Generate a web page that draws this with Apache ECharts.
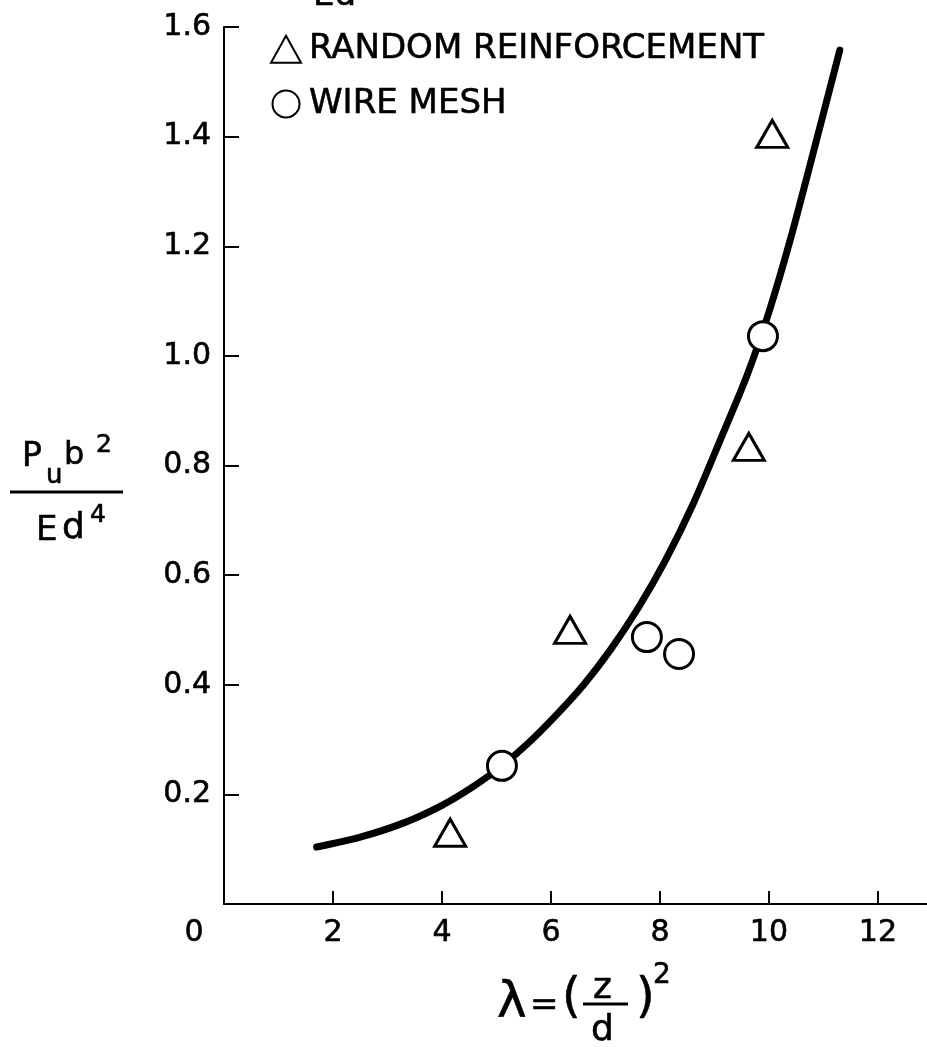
<!DOCTYPE html>
<html>
<head>
<meta charset="utf-8">
<title>Pu b2 / Ed4 vs lambda</title>
<script src="https://cdn.jsdelivr.net/npm/echarts@6/dist/echarts.min.js"></script>
<style>
  html, body { margin: 0; padding: 0; background: #fff; }
  #chart { width: 927px; height: 1047px; }
</style>
</head>
<body>
<div id="chart"></div>
<script>
  // test points, random reinforcement (triangles)
  var randomX = [4.15, 6.35, 9.63, 10.06]
  var randomY = [0.13, 0.50, 0.834, 1.405]
  // test points, wire mesh (circles)
  var meshX = [5.10, 7.76, 8.35, 9.89]
  var meshY = [0.252, 0.487, 0.456, 1.036]
  // points
  var curveX = [1.70, 2.50, 3.30, 4.00, 4.60, 5.10, 5.60, 6.10, 6.60, 7.10, 7.60, 8.10, 8.60, 9.10, 9.60, 10.00, 10.40, 10.85, 11.30]
  var curveY = [0.104, 0.122, 0.148, 0.180, 0.216, 0.252, 0.295, 0.345, 0.400, 0.465, 0.540, 0.627, 0.728, 0.845, 0.965, 1.080, 1.215, 1.385, 1.558]
  // tick values
  var xTicks = [0, 2, 4, 6, 8, 10, 12]
  var yTicks = [0, 0.2, 0.4, 0.6, 0.8, 1.0, 1.2, 1.4, 1.6]

  var FONT = 'DejaVu Sans'
  var INK = 0.6 // a little extra stroke on the letters

  function zip(xs, ys) {
    var out = []
    for (var i = 0; i < xs.length; i++) out.push([xs[i], ys[i]])
    return out
  }

  function txt(x, y, s, size) {
    return {
      type: 'text',
      x: x,
      y: y,
      silent: true,
      style: {
        text: s,
        fontFamily: FONT,
        fontSize: size,
        fill: '#000',
        stroke: '#000',
        lineWidth: INK,
        align: 'left',
        verticalAlign: 'middle',
        textAlign: 'left',
        textVerticalAlign: 'middle'
      }
    }
  }

  function bar(x1, x2, y) {
    return {
      type: 'line',
      silent: true,
      shape: { x1: x1, y1: y, x2: x2, y2: y },
      style: { stroke: '#000', lineWidth: 3 }
    }
  }

  var chart = echarts.init(document.getElementById('chart'))

  var option = {
    backgroundColor: '#fff',
    animation: false,
    grid: { left: 224, right: 0, top: 27, bottom: 143 },
    legend: {
      orient: 'vertical',
      left: 265,
      top: 27,
      itemWidth: 30,
      itemHeight: 27,
      itemGap: 20,
      data: ['RANDOM REINFORCEMENT', 'WIRE MESH'],
      textStyle: {
        fontFamily: FONT, fontSize: 34, color: '#000',
        textBorderColor: '#000', textBorderWidth: INK,
        padding: [0, 0, 0, 3]
      }
    },
    xAxis: {
      type: 'value',
      min: 0,
      max: 12.9,
      interval: 2,
      splitLine: { show: false },
      axisLine: { lineStyle: { color: '#000', width: 2 } },
      axisTick: { inside: true, length: 13, customValues: xTicks.slice(1), lineStyle: { color: '#000', width: 2 } },
      axisLabel: {
        customValues: xTicks,
        margin: 14,
        fontFamily: FONT,
        fontSize: 30,
        color: '#000',
        textBorderColor: '#000',
        textBorderWidth: INK,
        formatter: function (v) {
          return v === 0 ? '{o|0}' : String(v)
        },
        rich: {
          o: { fontFamily: FONT, fontSize: 30, color: '#000', textBorderColor: '#000', textBorderWidth: INK, padding: [0, 60, 0, 0] }
        }
      }
    },
    yAxis: {
      type: 'value',
      min: 0,
      max: 1.6,
      interval: 0.2,
      splitLine: { show: false },
      axisLine: { lineStyle: { color: '#000', width: 2 } },
      axisTick: { inside: true, length: 15, customValues: yTicks.slice(1), lineStyle: { color: '#000', width: 2 } },
      axisLabel: {
        customValues: yTicks.slice(1),
        margin: 13,
        fontFamily: FONT,
        fontSize: 30,
        color: '#000',
        textBorderColor: '#000',
        textBorderWidth: INK,
        formatter: function (v) {
          return v.toFixed(1)
        }
      }
    },
    series: [
      {
        name: 'curve',
        type: 'line',
        data: zip(curveX, curveY),
        smooth: 0.3,
        showSymbol: false,
        silent: true,
        z: 2,
        lineStyle: { color: '#000', width: 7, cap: 'round' }
      },
      {
        name: 'RANDOM REINFORCEMENT',
        type: 'scatter',
        data: zip(randomX, randomY),
        symbol: 'triangle',
        symbolSize: [31, 27],
        z: 3,
        itemStyle: { color: '#fff', borderColor: '#000', borderWidth: 3, opacity: 1 }
      },
      {
        name: 'WIRE MESH',
        type: 'scatter',
        data: zip(meshX, meshY),
        symbol: 'circle',
        symbolSize: 29,
        z: 3,
        itemStyle: { color: '#fff', borderColor: '#000', borderWidth: 3, opacity: 1 }
      }
    ],
    graphic: [
      // clipped label fragment at the very top
      txt(313, -4, 'Ed', 34),
      // y axis name: Pu b^2 / Ed^4
      txt(22, 457, 'P', 33),
      txt(46, 476, 'u', 26),
      txt(64, 456, 'b', 32),
      txt(96, 445, '2', 25),
      bar(10, 123, 492),
      txt(36, 531, 'E', 34),
      txt(62, 529, 'd', 36),
      txt(90, 515, '4', 25),
      // x axis name: lambda = (z/d)^2
      txt(497, 1004, 'λ', 50),
      txt(530, 1006, '=', 34),
      txt(562, 1000, '(', 48),
      txt(593, 989, 'z', 36),
      bar(583, 628, 1004),
      txt(591, 1031, 'd', 36),
      txt(636, 1000, ')', 48),
      txt(653, 976, '2', 28)
    ]
  }

  chart.setOption(option)
</script>
</body>
</html>
